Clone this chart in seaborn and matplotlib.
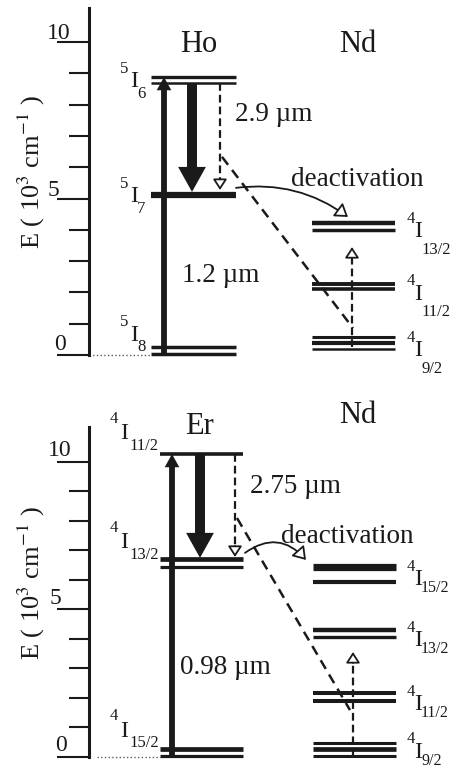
import numpy as np
import pandas as pd
import matplotlib
matplotlib.use("Agg")
import matplotlib.pyplot as plt
import seaborn as sns

# ---------------- data (energies in 10^3 cm^-1) ----------------
ion_names = [["Ho", "Nd"], ["Er", "Nd"]]
wavelength_labels = [["2.9 µm", "1.2 µm"], ["2.75 µm", "0.98 µm"]]
transfer_label = "deactivation"
y_ticks = [0, 5, 10]
y_minor = list(range(11))
y_label = r"E ( 10$^{3}$ cm$^{-1}$ )"

ho_sup = ["5", "5", "5"]
ho_sub = ["6", "7", "8"]
ho_energy = [[8.88, 8.69], [5.11], [0.26, 0.03]]

nd1_sup = ["4", "4", "4"]
nd1_sub = ["13/2", "11/2", "9/2"]
nd1_energy = [[4.22, 3.99], [2.28, 2.11], [0.58, 0.38, 0.18]]

er_sup = ["4", "4", "4"]
er_sub = ["11/2", "13/2", "15/2"]
er_energy = [[10.27], [6.71, 6.44], [0.27, 0.03]]

nd2_sup = ["4", "4", "4", "4"]
nd2_sub = ["15/2", "13/2", "11/2", "9/2"]
nd2_energy = [[6.44, 5.93], [4.31, 4.07], [2.17, 1.90], [0.47, 0.27, 0.03]]

# transitions (start energy, end energy)
pump_top, pump_bot = [0.03, 8.88], [0.03, 10.27]
emis_top, emis_bot = [8.69, 5.21], [10.27, 6.75]
dash_top, dash_bot = [8.69, 5.27], [10.27, 6.78]
cr_top, cr_bot = [6.33, 0.86], [8.10, 1.59]
ndup_top, ndup_bot = [0.26, 3.45], [0.03, 3.56]
deact_top, deact_bot = [5.34, 4.41], [6.92, 6.68]

# ---------------- style / layout ----------------
W, H, DPI = 4.53, 7.70, 100
AX_LEFT = 89
FONT = ["Liberation Serif", "DejaVu Serif"]

sns.set_theme(style="white")
plt.rcParams["font.family"] = FONT
plt.rcParams["mathtext.fontset"] = "stix"
plt.rcParams["lines.solid_capstyle"] = "butt"
plt.rcParams["lines.dash_capstyle"] = "butt"

fig = plt.figure(figsize=(W, H), dpi=DPI)
fig.patch.set_facecolor("white")

PANELS = [
    dict(y0=355, s=31.3, ylim=(-0.4, 11.1)),
    dict(y0=757, s=29.5, ylim=(-0.4, 11.2)),
]


def ypx(P, y):
    return (P["y0"] - y) / P["s"]


def epx(P, E):
    return P["y0"] - P["s"] * E


def make_axes(P):
    bot_px = epx(P, P["ylim"][0])
    top_px = epx(P, P["ylim"][1])
    rect = [AX_LEFT / 453, 1 - bot_px / 770, 1 - AX_LEFT / 453, (bot_px - top_px) / 770]
    ax = fig.add_axes(rect)
    ax.set_facecolor("none")
    ax.set_xlim(AX_LEFT, 453)
    ax.set_ylim(*P["ylim"])
    return ax


def txt(ax, P, x, yc, s, size, ha="center", cap=0.68):
    size_px = size * DPI / 72
    yb = yc + cap * size_px / 2
    ax.text(x, ypx(P, yb), s, fontsize=size, ha=ha, va="baseline", color="k")


def draw_levels(ax, x0, x1, energies, widths):
    rows = []
    for i, (Es, ws) in enumerate(zip(energies, widths)):
        for j, (E, w) in enumerate(zip(Es, ws)):
            seg = f"{i}-{j}"
            rows.append(dict(x=x0, E=E, seg=seg, w=w))
            rows.append(dict(x=x1, E=E, seg=seg, w=w))
    df = pd.DataFrame(rows)
    sizes = {w: w for w in df["w"].unique()}
    sns.lineplot(data=df, x="x", y="E", units="seg", estimator=None,
                 size="w", sizes=sizes, color="k", legend=False,
                 sort=False, ax=ax)


def level_labels(ax, P, x_I, energies, sups, subs, I_off, sup_off, sub_off, sub_size=12):
    for Es, sp, sb, off in zip(energies, sups, subs, I_off):
        yI = epx(P, np.mean(Es)) + off
        txt(ax, P, x_I, yI, "I", 17.5)
        txt(ax, P, x_I + sup_off[0], yI + sup_off[1], sp, 12)
        txt(ax, P, x_I + sub_off[0], yI + sub_off[1], sb, sub_size, ha="left")


def solid_arrow(ax, x, E, tail, hw, hl):
    ax.annotate("", xy=(x, E[1]), xytext=(x, E[0]),
                arrowprops=dict(arrowstyle=f"simple,head_length={hl},head_width={hw},tail_width={tail}",
                                fc="k", ec="none", lw=0, shrinkA=0, shrinkB=0,
                                mutation_scale=10))


def open_head(ax, xy, xytext, hl=0.65, hw=0.42, lw=1.3):
    ax.annotate("", xy=xy, xytext=xytext,
                arrowprops=dict(arrowstyle=f"-|>,head_length={hl},head_width={hw}",
                                fc="white", ec="k", lw=lw, shrinkA=0, shrinkB=0,
                                mutation_scale=10))


def dashed_vertical(ax, P, x, E, dashes=(3.5, 1.8), lw=1.6):
    sgn = 1 if E[1] > E[0] else -1
    base = E[1] - sgn * 9 / P["s"]
    ax.plot([x, x], [E[0], base], color="k", lw=lw, ls=(0, dashes))
    open_head(ax, (x, E[1]), (x, E[1] - sgn * 11 / P["s"]))


def style_axis(ax, P, top):
    for side in ["top", "right", "bottom"]:
        ax.spines[side].set_visible(False)
    ax.spines["left"].set_linewidth(2.2)
    ax.spines["left"].set_color("k")
    ax.spines["left"].set_bounds(0, top)
    ax.set_xticks([])
    ax.set_yticks(y_ticks)
    ax.set_yticks(y_minor, minor=True)
    ax.tick_params(axis="y", which="major", length=23, width=1.5, direction="out",
                   color="k", labelleft=False, left=True)
    ax.tick_params(axis="y", which="minor", length=14.5, width=1.5, direction="out",
                   color="k", left=True)
    ax.set_xlabel("")
    ax.set_ylabel("")


# ================= top panel: Ho / Nd =================
P = PANELS[0]
ax = make_axes(P)
draw_levels(ax, 151, 236, ho_energy, [[2.4, 1.8], [4.5], [2.5, 2.5]])
draw_levels(ax, 312, 395, nd1_energy, [[3.2, 2.5], [2.8, 2.6], [2.2, 3.0, 1.8]])
style_axis(ax, P, 11.1)
ax.plot([AX_LEFT, 151], [0, 0], color="0.35", lw=1.0, ls=":")

solid_arrow(ax, 164, pump_top, 0.42, 1.05, 0.95)
solid_arrow(ax, 192, emis_top, 0.72, 2.0, 1.8)
dashed_vertical(ax, P, 220, dash_top)
ax.plot([222, 353], cr_top, color="k", lw=1.8, ls=(0, (4, 2.6)))
dashed_vertical(ax, P, 352, ndup_top)
ax.annotate("", xy=(348, deact_top[1]), xytext=(236, deact_top[0]),
            arrowprops=dict(arrowstyle="-|>,head_length=0.75,head_width=0.5",
                            connectionstyle="arc3,rad=-0.2", fc="white", ec="k",
                            lw=1.3, shrinkA=0, shrinkB=0, mutation_scale=10))

level_labels(ax, P, 134, ho_energy, ho_sup, ho_sub, [-1, -1, -18], (-10, -12), (3, 13))
level_labels(ax, P, 418, nd1_energy, nd1_sup, nd1_sub, [2.5, 5, 5], (-7, -12), (3, 19))

txt(ax, P, 199, 42, ion_names[0][0], 22)
txt(ax, P, 358, 42, ion_names[0][1], 22)
txt(ax, P, 235, 112, wavelength_labels[0][0], 19.5, ha="left")
txt(ax, P, 182, 273, wavelength_labels[0][1], 19.5, ha="left")
txt(ax, P, 357, 177, transfer_label, 19.5)
for t, (xc, yc) in zip(y_ticks, [(60, 342), (53, 188), (59, 31)]):
    txt(ax, P, xc, yc, str(t), 17)
fig.text(31 / 453, 1 - 172 / 770, y_label, rotation=90, ha="center", va="center",
         fontsize=19, color="k")

# ================= bottom panel: Er / Nd =================
P = PANELS[1]
ax = make_axes(P)
draw_levels(ax, 160, 243, er_energy, [[2.6], [3.4, 2.3], [3.4, 2.3]])
draw_levels(ax, 313, 396, nd2_energy, [[5.2, 3.0], [3.2, 2.4], [2.9, 2.9], [2.2, 3.4, 2.2]])
style_axis(ax, P, 11.2)
ax.plot([AX_LEFT + 8, 160], [0, 0], color="0.35", lw=1.0, ls=":")

solid_arrow(ax, 172, pump_bot, 0.42, 1.05, 0.95)
solid_arrow(ax, 200, emis_bot, 0.72, 2.0, 1.8)
dashed_vertical(ax, P, 235, dash_bot)
ax.plot([237, 350], cr_bot, color="k", lw=1.8, ls=(0, (4, 2.6)))
dashed_vertical(ax, P, 353, ndup_bot)
ax.annotate("", xy=(306, deact_bot[1]), xytext=(245, deact_bot[0]),
            arrowprops=dict(arrowstyle="-|>,head_length=0.75,head_width=0.5",
                            connectionstyle="arc3,rad=-0.45", fc="white", ec="k",
                            lw=1.3, shrinkA=0, shrinkB=0, mutation_scale=10))

level_labels(ax, P, 124, er_energy, er_sup, er_sub, [-23, -23, -24], (-10, -14), (5, 13))
level_labels(ax, P, 418, nd2_energy, nd2_sup, nd2_sub, [2.5, 4.5, 5, 0], (-7, -12), (3, 10),
             sub_size=11.5)

txt(ax, P, 199, 424, ion_names[1][0], 22)
txt(ax, P, 358, 413, ion_names[1][1], 22)
txt(ax, P, 250, 484, wavelength_labels[1][0], 19.5, ha="left")
txt(ax, P, 180, 665, wavelength_labels[1][1], 19.5, ha="left")
txt(ax, P, 347, 534, transfer_label, 19.5)
for t, (xc, yc) in zip(y_ticks, [(61, 743), (55, 596), (60, 448)]):
    txt(ax, P, xc, yc, str(t), 17)
fig.text(31 / 453, 1 - 583 / 770, y_label, rotation=90, ha="center", va="center",
         fontsize=19, color="k")

fig.savefig("out.png", dpi=DPI, facecolor="white")
